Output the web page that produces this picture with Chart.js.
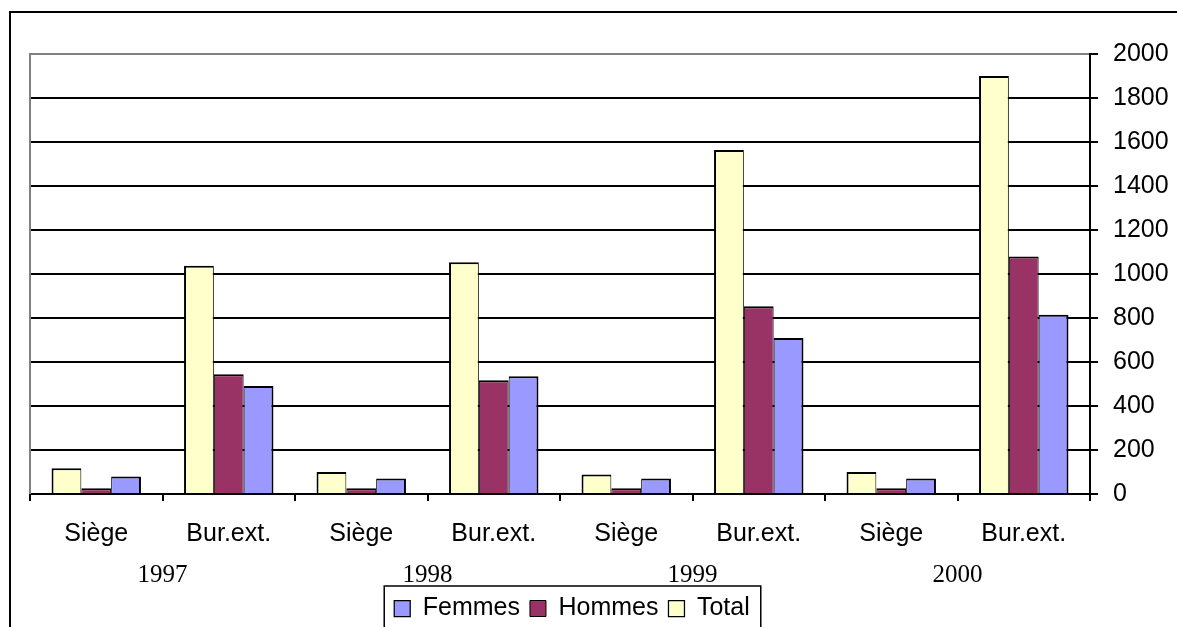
<!DOCTYPE html>
<html>
<head>
<meta charset="utf-8">
<script src="https://cdn.jsdelivr.net/npm/chart.js@4.4.1/dist/chart.umd.min.js"></script>
<style>
  html, body { margin: 0; padding: 0; background: #fff; overflow: hidden; }
  #wrap { position: relative; width: 1177px; height: 627px; overflow: hidden; }
  #chart { position: absolute; left: 0; top: 0; }
</style>
</head>
<body>
<div id="wrap"><canvas id="chart" width="1177" height="660"></canvas></div>
<script>
// Effectifs par lieu d'affectation (Siège / bureaux extérieurs), 1997-2000
const categories = ['Siège', 'Bur.ext.', 'Siège', 'Bur.ext.', 'Siège', 'Bur.ext.', 'Siège', 'Bur.ext.'];
const years = ['1997', '1998', '1999', '2000'];
const total  = [117, 1038, 100, 1053, 89, 1564, 100, 1900];
const hommes = [26, 544, 26, 517, 26, 853, 26, 1080];
const femmes = [80, 491, 71, 535, 71, 709, 71, 815];
const yMin = 0, yMax = 2000, yStep = 200;

const SANS = '"Liberation Sans", Arial, sans-serif';
const SERIF = '"Liberation Serif", "Times New Roman", serif';

// Outer frame, plot-area border, year row under the categories, legend frame
const decorations = {
  id: 'decorations',
  afterLayout(chart) {
    // legend box sits slightly right of the plot centre
    const lg = chart.legend;
    if (lg) { lg.left += 12; lg.right += 12; }
  },
  beforeDraw(chart) {
    const ctx = chart.ctx;
    ctx.save();
    ctx.fillStyle = '#fff';
    ctx.fillRect(0, 0, chart.width, chart.height);
    ctx.strokeStyle = '#000';
    ctx.lineWidth = 2;
    ctx.strokeRect(10, 12, 1400, 900);
    ctx.restore();
  },
  beforeDatasetsDraw(chart) {
    const { ctx, chartArea } = chart;
    ctx.save();
    ctx.strokeStyle = '#808080';
    ctx.lineWidth = 2;
    ctx.beginPath();
    ctx.moveTo(chartArea.left, chartArea.top - 1);
    ctx.lineTo(chartArea.left, chartArea.bottom);
    ctx.stroke();
    ctx.restore();
  },
  afterDraw(chart) {
    const ctx = chart.ctx;
    const x = chart.scales.x;
    ctx.save();
    ctx.fillStyle = '#000';
    ctx.font = '25px ' + SERIF;
    ctx.textAlign = 'center';
    ctx.textBaseline = 'alphabetic';
    years.forEach((yr, i) => {
      const cx = (x.getPixelForValue(2 * i) + x.getPixelForValue(2 * i + 1)) / 2;
      ctx.fillText(yr, cx, chart.chartArea.bottom + 88);
    });

    const lg = chart.legend;
    if (lg && lg.legendHitBoxes && lg.legendHitBoxes.length) {
      const boxes = lg.legendHitBoxes;
      const left = Math.min(...boxes.map(b => b.left)) - 10;
      const right = Math.max(...boxes.map(b => b.left + b.width)) + 11;
      ctx.strokeStyle = '#000';
      ctx.lineWidth = 1.5;
      ctx.strokeRect(left, lg.top, right - left, 200);
    }
    ctx.restore();
  }
};

new Chart(document.getElementById('chart'), {
  type: 'bar',
  data: {
    labels: categories,
    datasets: [
      { label: 'Total', data: total, backgroundColor: '#FFFFCC', borderColor: '#000',
        borderWidth: { left: 2, right: 1, top: 2, bottom: 0 } },
      { label: 'Hommes', data: hommes, backgroundColor: '#993366', borderColor: '#000',
        borderWidth: { left: 1, right: 1, top: 2, bottom: 0 } },
      { label: 'Femmes', data: femmes, backgroundColor: '#9999FF', borderColor: '#000',
        borderWidth: { left: 1, right: 2, top: 2, bottom: 0 } }
    ]
  },
  options: {
    responsive: false,
    animation: false,
    devicePixelRatio: 1,
    categoryPercentage: 0.675,
    barPercentage: 1,
    layout: { padding: { left: 30, top: 54, right: 0, bottom: 29 } },
    scales: {
      x: {
        offset: true,
        grid: { display: true, offset: true, drawOnChartArea: false, drawTicks: true,
                tickLength: 7, color: '#000', lineWidth: 2 },
        border: { display: true, color: '#000', width: 2 },
        ticks: { color: '#000', font: { family: SANS, size: 25 }, padding: 18,
                 maxRotation: 0, autoSkip: false },
        afterFit(scale) { scale.height = 92; }
      },
      y: {
        position: 'right',
        min: yMin, max: yMax,
        grid: {
          color: (c) => (c.tick && c.tick.value === yMax) ? '#808080' : '#000',
          tickColor: '#000',
          lineWidth: 2,
          tickLength: 8, drawTicks: true
        },
        border: { display: true, color: '#000', width: 2 },
        ticks: { stepSize: yStep, color: '#000', font: { family: SANS, size: 25 }, padding: 15,
                 callback: (v) => String(v) },
        afterFit(scale) { scale.width = 87; }
      }
    },
    plugins: {
      title: { display: false },
      tooltip: { enabled: false },
      legend: {
        position: 'bottom',
        fullSize: false,
        reverse: true,
        labels: { color: '#000', font: { family: SANS, size: 25 }, boxWidth: 16, boxHeight: 16, padding: 10 }
      }
    }
  },
  plugins: [decorations]
});
</script>
</body>
</html>
